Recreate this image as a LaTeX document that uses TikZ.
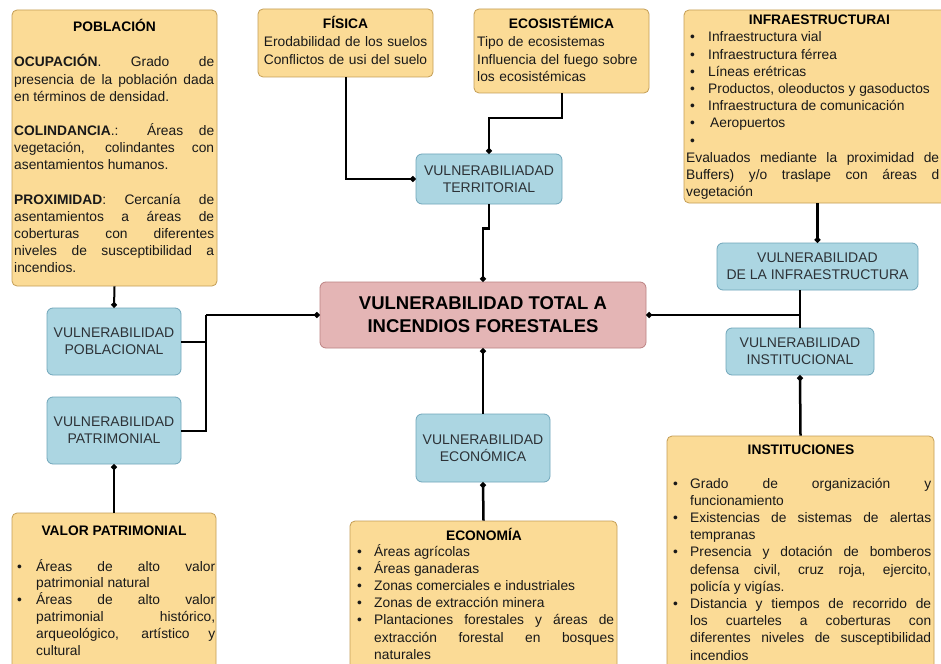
\documentclass[tikz,border=0pt]{standalone}
\usepackage{fontspec}
\setmainfont{Liberation Sans}
\usetikzlibrary{arrows.meta}
\definecolor{yfill}{RGB}{251,219,150}
\definecolor{ydraw}{RGB}{196,158,86}
\definecolor{bfill}{RGB}{172,214,226}
\definecolor{bdraw}{RGB}{112,166,186}
\definecolor{pfill}{RGB}{228,181,181}
\definecolor{pdraw}{RGB}{188,130,130}
\definecolor{btext}{RGB}{45,50,55}
\definecolor{ttext}{RGB}{25,25,25}
\tolerance=10000
\hbadness=10000
\setlength\parindent{0pt}
\newcommand\bitem[2][17pt]{\hangindent=#1\hangafter=1\noindent\makebox[#1][l]{•}#2\par}
\tikzset{
  ybox/.style={draw=ydraw, fill=yfill, rounded corners=5pt, line width=0.8pt, inner sep=0pt},
  bbox/.style={draw=bdraw, fill=bfill, rounded corners=6pt, line width=0.8pt, align=center,
    inner sep=0pt, font=\fontsize{14}{17}\selectfont, text=btext},
  pbox/.style={draw=pdraw, fill=pfill, rounded corners=6pt, line width=0.8pt, align=center,
    inner sep=0pt, font=\bfseries\fontsize{18.5}{23}\selectfont, text=black},
  body/.style={inner sep=0pt, anchor=base west, align=justify, text=ttext,
    font=\fontsize{13.8}{17.2}\selectfont},
  ctext/.style={inner sep=0pt, anchor=base, align=center, text=ttext,
    font=\fontsize{13.8}{17.2}\selectfont},
  ttl/.style={inner sep=0pt, anchor=base, text=black, font=\bfseries\fontsize{13.8}{16}\selectfont},
  link/.style={line width=2pt, draw=black},
  conn/.style={line width=2pt, draw=black, -{Circle[length=5.5pt]}}
}
\begin{document}
\begin{tikzpicture}[x=1pt,y=-1pt]
\useasboundingbox (0,0) rectangle (941,663);
\clip (0,0) rectangle (941,663);
\fill[white] (0,0) rectangle (941,663);

% ---------- yellow boxes ----------
\node[ybox, minimum width=205pt, minimum height=276pt] (pob) at (114.5,148) {};
\node[ttl] (pobt) at (114.5,32) {POBLACIÓN};
\node[body, text width=200pt] (pobx) at (14,67) {{\bfseries OCUPACIÓN}. Grado de\linebreak presencia de la población dada\linebreak en términos de densidad.\par\vspace{17pt}{\bfseries COLINDANCIA}.: Áreas de\linebreak vegetación, colindantes con\linebreak asentamientos humanos.\par\vspace{17pt}{\bfseries PROXIMIDAD}: Cercanía de\linebreak asentamientos a áreas de\linebreak coberturas con diferentes\linebreak niveles de susceptibilidad a\linebreak incendios.};

\node[ybox, minimum width=175pt, minimum height=68pt] (fis) at (345.5,43) {};
\node[ttl] (fist) at (345.5,29) {FÍSICA};
\node[ctext, text width=172pt] (fisx) at (345.5,47) {Erodabilidad de los suelos\\Conflictos de usi del suelo};

\node[ybox, minimum width=175pt, minimum height=84pt] (eco) at (561.5,51) {};
\node[ttl] (ecot) at (561.5,29) {ECOSISTÉMICA};
\node[body, align=left, text width=172pt] (ecox) at (477,47) {Tipo de ecosistemas\\Influencia del fuego sobre\\los ecosistémicas};

\node[ybox, minimum width=268pt, minimum height=193pt] (infbox) at (818,106.5) {};
\node[ttl] (inft) at (819.5,25) {INFRAESTRUCTURAI};
\node[body, text width=250pt] (infx) at (690,42) {\bitem[18pt]{Infraestructura vial}\bitem[18pt]{Infraestructura férrea}\bitem[18pt]{Líneas erétricas}\bitem[18pt]{Productos, oleoductos y gasoductos}\bitem[18pt]{Infraestructura de comunicación}\bitem[18pt]{\hspace{2pt}Aeropuertos}\bitem[18pt]{}};
\node[body, text width=253pt] (infy) at (686,162.4) {Evaluados mediante la proximidad de\linebreak Buffers) y/o traslape con áreas d\linebreak vegetación};

\node[ybox, minimum width=204pt, minimum height=187pt] (valbox) at (114,606.5) {};
\node[ttl] (valt) at (114,535) {VALOR PATRIMONIAL};
\node[body, text width=198pt, font=\fontsize{13.8}{16.8}\selectfont] (valx) at (17,571) {\bitem[19pt]{Áreas de alto valor\linebreak patrimonial natural}\bitem[19pt]{Áreas de alto valor\linebreak patrimonial histórico,\linebreak arqueológico, artístico y\linebreak cultural}};

\node[ybox, minimum width=267pt, minimum height=179pt] (econbox) at (483.5,610.5) {};
\node[ttl] (econt) at (484,540) {ECONOMÍA};
\node[body, text width=257pt] (econx) at (357,556) {\bitem{Áreas agrícolas}\bitem{Áreas ganaderas}\bitem{Zonas comerciales e industriales}\bitem{Zonas de extracción minera}\bitem{Plantaciones forestales y áreas de\linebreak extracción forestal en bosques\linebreak naturales}};

\node[ybox, minimum width=267pt, minimum height=264pt] (instbox) at (800.5,568) {};
\node[ttl] (instt) at (801,454) {INSTITUCIONES};
\node[body, text width=258pt] (instx) at (673,488) {\bitem{Grado de organización y\linebreak funcionamiento}\bitem{Existencias de sistemas de alertas\linebreak tempranas}\bitem{Presencia y dotación de bomberos\linebreak defensa civil, cruz roja, ejercito,\linebreak policía y vigías.}\bitem{Distancia y tiempos de recorrido de\linebreak los cuarteles a coberturas con\linebreak diferentes niveles de susceptibilidad\linebreak incendios}};

% ---------- blue boxes ----------
\node[bbox, minimum width=146pt, minimum height=50pt] (terr) at (489,179) {VULNERABILIADAD\\TERRITORIAL};
\node[bbox, minimum width=134pt, minimum height=67pt] (pobl) at (114,341.5) {VULNERABILIDAD\\POBLACIONAL};
\node[bbox, minimum width=134pt, minimum height=67pt] (patr) at (114,430.5) {VULNERABILIDAD\\PATRIMONIAL};
\node[bbox, minimum width=201pt, minimum height=47pt] (infra) at (817.5,266.5) {VULNERABILIDAD\\DE LA INFRAESTRUCTURA};
\node[bbox, minimum width=148pt, minimum height=47pt] (inst) at (800,351.5) {VULNERABILIDAD\\INSTITUCIONAL};
\node[bbox, minimum width=134pt, minimum height=68pt] (econ) at (483,448) {VULNERABILIDAD\\ECONÓMICA};

% ---------- central ----------
\node[pbox, minimum width=326pt, minimum height=66pt] (cen) at (483,315) {VULNERABILIDAD TOTAL A\\INCENDIOS FORESTALES};

% ---------- connectors ----------
\draw[conn] (fis.south) |- (terr.west);
\draw[conn] (eco.south) -- ++(0,25) -| (terr.north);
\draw[conn, line width=2.5pt] (terr.south) -- ++(0,24) -| (cen.north);
\draw[conn] (pob.south) -- (pobl.north);
\draw[conn] (valbox.north) -- (patr.south);
\coordinate (lj) at (206,315);
\draw[link] (pobl.east) -| (lj);
\draw[link] (patr.east) -| (lj);
\draw[conn] (lj) -- (cen.west);
\draw[conn, line width=2.5pt] (infbox.south -| infra.north) -- (infra.north);
\draw[link, line width=2.5pt] (infra.south -| inst.north) -- (inst.north);
\draw[conn, line width=2.5pt] (inst.north |- cen.east) -- (cen.east);
\draw[conn, line width=2.5pt] (instbox.north) -- (inst.south);
\draw[conn, line width=2.5pt] (econ.north) -- (cen.south);
\draw[conn, line width=2.5pt] (econbox.north) -- (econ.south);
\end{tikzpicture}
\end{document}
